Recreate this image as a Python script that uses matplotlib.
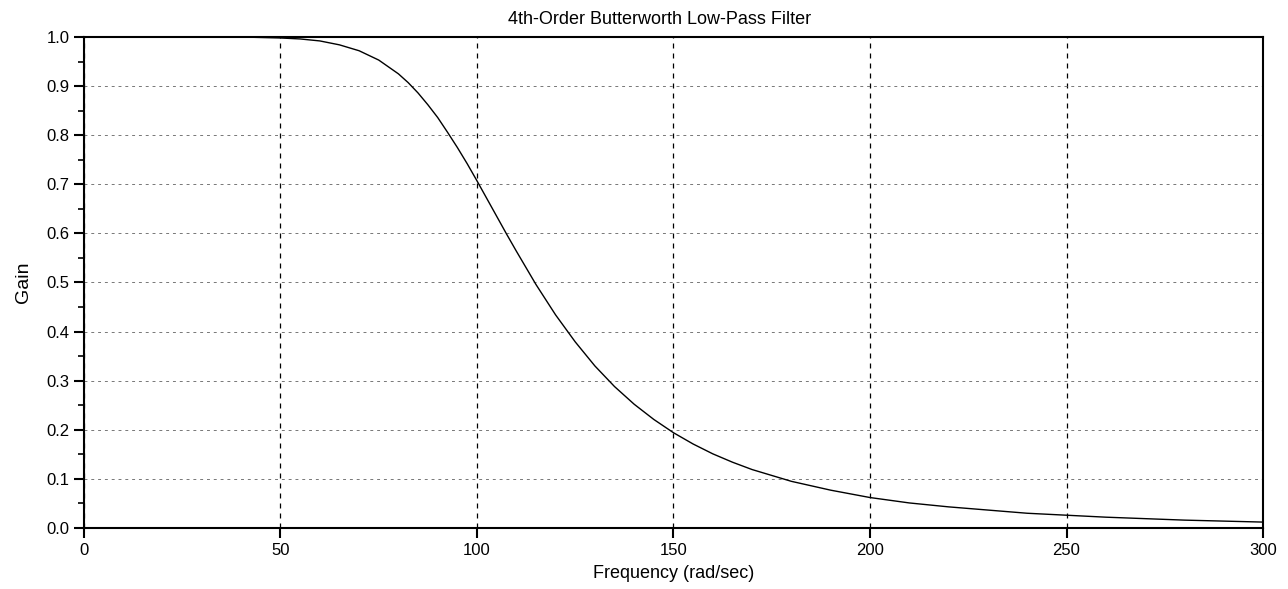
import matplotlib.pyplot as plt
from matplotlib.ticker import MultipleLocator

plt.rcParams['font.family'] = ['Liberation Sans', 'DejaVu Sans']

# gain (rad/sec -> gain)
freq = [0, 20, 40, 45, 50, 55, 60, 65, 70, 75, 80, 82.5, 85, 87.5, 90,
        92.5, 95, 97.5, 100, 102.5, 105, 107.5, 110, 115, 120, 125, 130,
        135, 140, 145, 150, 155, 160, 165, 170, 180, 190, 200, 210, 220,
        240, 260, 280, 300]
gain = [1.0, 1.0, 1.0, 0.999, 0.998, 0.996, 0.992, 0.984, 0.972, 0.953,
        0.925, 0.907, 0.886, 0.862, 0.836, 0.806, 0.775, 0.742, 0.707,
        0.671, 0.635, 0.599, 0.564, 0.496, 0.434, 0.379, 0.330, 0.288,
        0.252, 0.221, 0.194, 0.171, 0.151, 0.134, 0.119, 0.095, 0.077,
        0.062, 0.051, 0.043, 0.030, 0.022, 0.016, 0.012]

fig = plt.figure(figsize=(12.88, 5.89), dpi=100)
ax = fig.add_axes([0.0652, 0.1036, 0.9154, 0.8336])

ax.plot(freq, gain, color='black', lw=1.0)

ax.set_xlim(0, 300)
ax.set_ylim(0, 1.0)
ax.xaxis.set_major_locator(MultipleLocator(50))
ax.yaxis.set_major_locator(MultipleLocator(0.1))
ax.yaxis.set_minor_locator(MultipleLocator(0.05))
ax.yaxis.set_major_formatter(plt.FormatStrFormatter('%.1f'))

ax.xaxis.grid(True, color='black', linestyle=(0, (4, 4)), lw=0.9)
ax.yaxis.grid(True, color='#777777', linestyle=(0, (3, 4)), lw=0.7)

ax.tick_params(axis='both', which='major', direction='out', length=7,
               width=1.5, labelsize=12, colors='black')
ax.tick_params(axis='y', which='minor', direction='out', length=4, width=1.2)
for s in ax.spines.values():
    s.set_linewidth(1.5)

ax.set_title('4th-Order Butterworth Low-Pass Filter', fontsize=13, pad=9,
             x=0.488)
ax.set_xlabel('Frequency (rad/sec)', fontsize=13, labelpad=5)
ax.set_ylabel('Gain', fontsize=14, labelpad=10)

fig.savefig('out.png', dpi=100)
